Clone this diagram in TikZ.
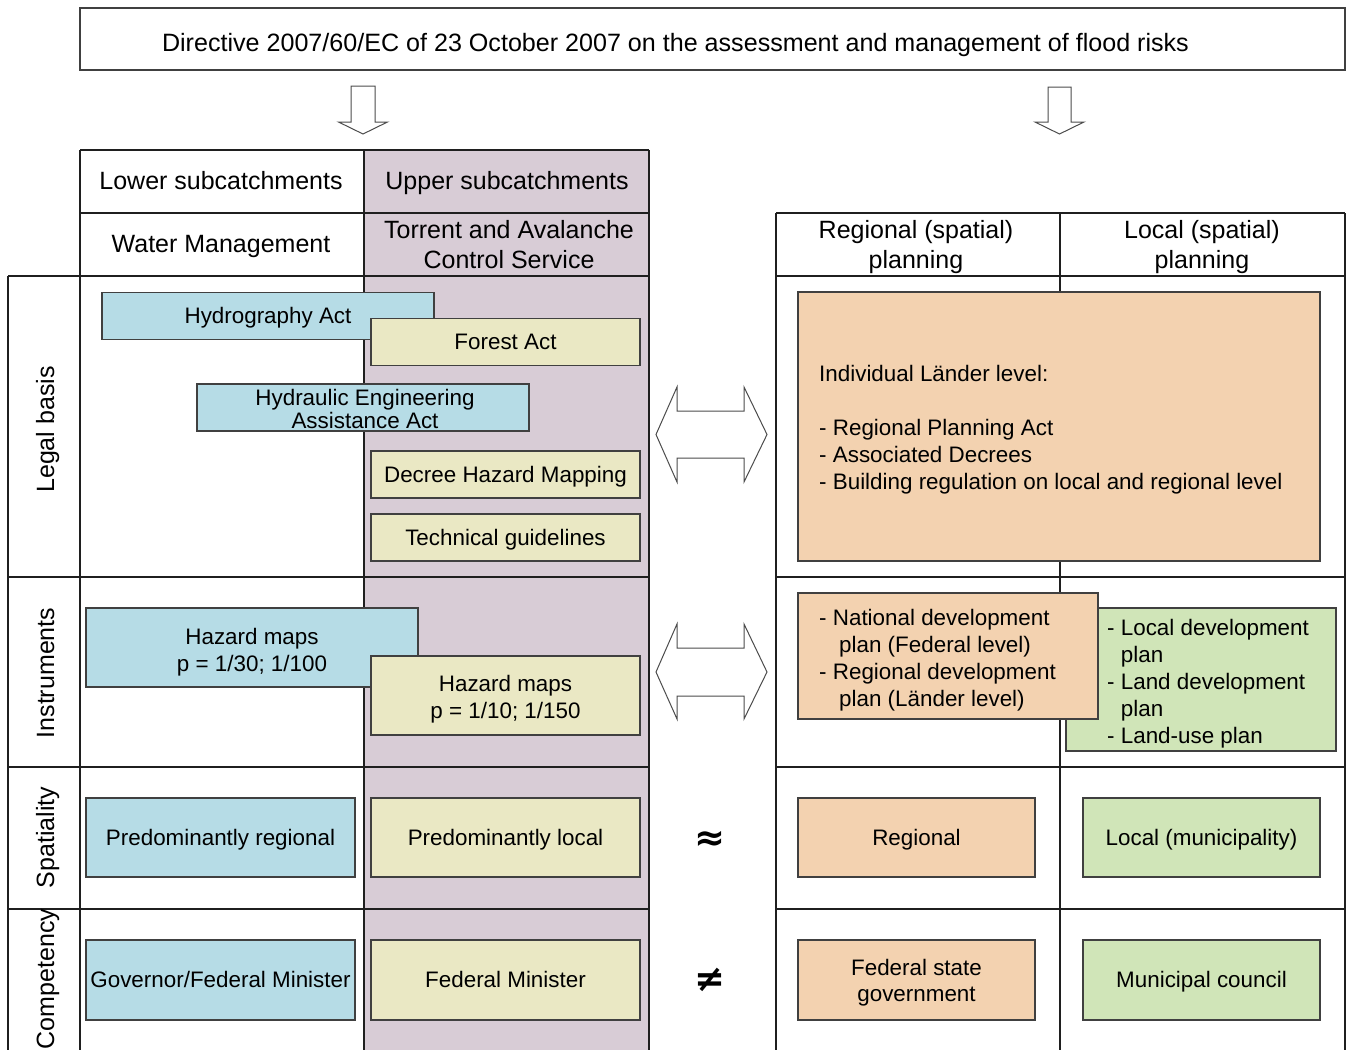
\documentclass[tikz,border=0pt]{standalone}
\usepackage{fontspec}
\setmainfont{Liberation Sans}
\newfontfamily\symfont{DejaVu Sans}
\definecolor{cblue}{RGB}{182,220,230}
\definecolor{cyel}{RGB}{234,232,196}
\definecolor{corange}{RGB}{243,210,176}
\definecolor{cgreen}{RGB}{208,229,184}
\definecolor{cpurple}{RGB}{216,204,214}
\newcommand\tstrut{\rule[-0.212em]{0pt}{1.117em}}
\tikzset{
  gridline/.style={line width=1.6pt, draw=black!88},
  struts/.style={execute at begin node=\tstrut, execute at end node=\tstrut},
  box/.style={draw=black!75, line width=1.2pt, inner sep=0pt, align=center,
    font=\fontsize{22.4}{27}\selectfont, struts},
  plainbox/.style={draw=black!75, line width=1.2pt, inner sep=0pt},
  boxtext/.style={inner sep=0pt, align=left, anchor=west, font=\fontsize{22.4}{27}\selectfont, struts},
  ctext/.style={inner sep=0pt, align=center, font=\fontsize{22.4}{27}\selectfont},
  hdr/.style={inner sep=0pt, align=center, font=\fontsize{25}{30}\selectfont, struts},
  rowlbl/.style={inner sep=0pt, rotate=90, anchor=base, font=\fontsize{25}{30}\selectfont},
  blockarrow/.style={draw=black!70, line width=1pt, fill=white},
  relsym/.style={inner sep=0pt, font=\symfont\bfseries\fontsize{37}{37}\selectfont}
}
\begin{document}
\begin{tikzpicture}[x=1pt,y=-1pt]
\useasboundingbox (0,0) rectangle (1347,1050);
% top directive
\node[plainbox, minimum width=1265pt, minimum height=62pt] (dir) at (712.5,39) {};
\node[inner sep=0pt, font=\fontsize{25.1}{30}\selectfont, struts] (dirtext) at (675.5,42.5) {Directive 2007/60/EC of 23 October 2007 on the assessment and management of flood risks};
% down arrows
\draw[blockarrow] (351,86) -- (375,86) -- (375,122) -- (387.5,122) -- (363,134) -- (338.5,122) -- (351,122) -- cycle;
\draw[blockarrow] (1048,87) -- (1071,87) -- (1071,122) -- (1084,122) -- (1059.5,134) -- (1035,122) -- (1048,122) -- cycle;
% purple column
\fill[cpurple] (364,150) rectangle (649,1050);
% left grid
\draw[gridline] (80,150) -- (649,150);
\draw[gridline] (80,213) -- (649,213);
\draw[gridline] (8,276) -- (649,276);
\draw[gridline] (8,577) -- (649,577);
\draw[gridline] (8,767) -- (649,767);
\draw[gridline] (8,909) -- (649,909);
\draw[gridline] (8,276) -- (8,1050);
\draw[gridline] (80,150) -- (80,1050);
\draw[gridline] (364,150) -- (364,1050);
\draw[gridline] (649,150) -- (649,1050);
% right grid
\draw[gridline] (776,213) -- (1345,213);
\draw[gridline] (776,276) -- (1345,276);
\draw[gridline] (776,577) -- (1345,577);
\draw[gridline] (776,767) -- (1345,767);
\draw[gridline] (776,909) -- (1345,909);
\draw[gridline] (776,213) -- (776,1050);
\draw[gridline] (1060,213) -- (1060,1050);
\draw[gridline] (1345,213) -- (1345,1050);
% headers
\node[hdr] (lower) at (221,181) {Lower subcatchments};
\node[hdr] (upper) at (507,181) {Upper subcatchments};
\node[hdr] (water) at (221,244) {Water Management};
\node[hdr] (torrent) at (509,247) {Torrent and Avalanche\\Control Service};
\node[hdr] (regplan) at (916,247) {Regional (spatial)\\planning};
\node[hdr] (locplan) at (1202,247) {Local (spatial)\\planning};
% row labels
\node[rowlbl] (legal) at (54,429.5) {Legal basis};
\node[rowlbl] (instr) at (54,673) {Instruments};
\node[rowlbl] (spat) at (54,837.5) {Spatiality};
\node[rowlbl] (comp) at (54,979) {Competency};
% legal basis boxes
\node[box, fill=cblue, minimum width=332pt, minimum height=47pt] (hydro) at (268,316) {Hydrography Act};
\node[box, fill=cyel, minimum width=269pt, minimum height=47pt] (forest) at (505.5,342) {Forest Act};
\node[plainbox, fill=cblue, minimum width=332pt, minimum height=47pt] (hydraulic) at (363,407.5) {};
\node[ctext, font=\fontsize{22.4}{23}\selectfont] (hydraulictext) at (365,408.5) {Hydraulic Engineering\\Assistance Act};
\node[box, fill=cyel, minimum width=269pt, minimum height=47pt] (decree) at (505.5,474.5) {Decree Hazard Mapping};
\node[box, fill=cyel, minimum width=269pt, minimum height=47pt] (techg) at (505.5,537.5) {Technical guidelines};
\node[plainbox, fill=corange, minimum width=522pt, minimum height=269pt] (laender) at (1059,426.5) {};
\node[boxtext] (laendertext) at (819,430) {Individual Länder level:\\[27pt]- Regional Planning Act\\- Associated Decrees\\- Building regulation on local and regional level};
% instruments
\node[plainbox, fill=cblue, minimum width=332pt, minimum height=79pt] (hazblue) at (252,647.5) {};
\node[ctext] (hazbluetext) at (252,652) {Hazard maps\\p = 1/30; 1/100};
\node[plainbox, fill=cyel, minimum width=269pt, minimum height=79pt] (hazyel) at (505.5,695.5) {};
\node[ctext] (hazyeltext) at (505.5,699) {Hazard maps\\p = 1/10; 1/150};
\node[plainbox, fill=cgreen, minimum width=270pt, minimum height=143pt] (localdev) at (1201,679.5) {};
\node[boxtext] (localdevtext) at (1107,684) {- Local development\\\hphantom{- }plan\\- Land development\\\hphantom{- }plan\\- Land-use plan};
\node[plainbox, fill=corange, minimum width=300pt, minimum height=126pt] (natdev) at (948,656) {};
\node[boxtext] (natdevtext) at (819,660.5) {- National development\\\hspace*{20pt}plan (Federal level)\\- Regional development\\\hspace*{20pt}plan (Länder level)};
% spatiality
\node[box, fill=cblue, minimum width=269pt, minimum height=79pt] (predreg) at (220.5,837.5) {Predominantly regional};
\node[box, fill=cyel, minimum width=269pt, minimum height=79pt] (predloc) at (505.5,837.5) {Predominantly local};
\node[box, fill=corange, minimum width=237pt, minimum height=79pt] (regional) at (916.5,837.5) {Regional};
\node[box, fill=cgreen, minimum width=237pt, minimum height=79pt] (localmun) at (1201.5,837.5) {Local (municipality)};
% competency
\node[box, fill=cblue, minimum width=269pt, minimum height=80pt] (governor) at (220.5,980) {Governor/Federal Minister};
\node[box, fill=cyel, minimum width=269pt, minimum height=80pt] (fedmin) at (505.5,980) {Federal Minister};
\node[plainbox, fill=corange, minimum width=237pt, minimum height=80pt] (fedstate) at (916.5,980) {};
\node[ctext, font=\fontsize{22.4}{26}\selectfont] (fedstatetext) at (916.5,983) {Federal state\\government};
\node[box, fill=cgreen, minimum width=237pt, minimum height=80pt] (municipal) at (1201.5,980) {Municipal council};
% double arrows
\draw[blockarrow] (656,434.5) -- (677,387) -- (677,411) -- (744,411) -- (744,387) -- (767,434.5) -- (744,482) -- (744,458) -- (677,458) -- (677,482) -- cycle;
\draw[blockarrow] (656,672) -- (677,624) -- (677,648) -- (744,648) -- (744,624) -- (767,672) -- (744,719) -- (744,696) -- (677,696) -- (677,719) -- cycle;
% relation symbols
\node[relsym] (approx) at (710,841) {≈};
\node[relsym] (neq) at (710,980) {≠};
\end{tikzpicture}
\end{document}
